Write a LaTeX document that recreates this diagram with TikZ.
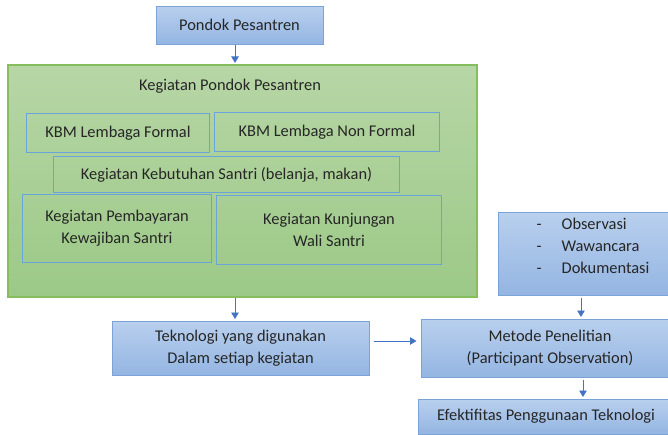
\documentclass[tikz,border=0pt]{standalone}
\usepackage{fontspec}
\setmainfont{Carlito}
\usetikzlibrary{arrows.meta}
\definecolor{bfTop}{HTML}{B9D0EE}
\definecolor{bfBot}{HTML}{94B5E2}
\definecolor{bBorder}{HTML}{7BA3D8}
\definecolor{gTop}{HTML}{B7D6A6}
\definecolor{gBot}{HTML}{9CC987}
\definecolor{gBorder}{HTML}{86BE5E}
\definecolor{inBorder}{HTML}{6AA4DA}
\definecolor{arrC}{HTML}{4472C4}
\begin{document}
\begin{tikzpicture}[x=1pt,y=-1pt,
 every node/.style={font=\fontsize{16.4}{22}\selectfont, text=black!85, inner sep=0pt, align=center},
 bluebox/.style={draw=bBorder, line width=1pt, top color=bfTop, bottom color=bfBot},
 greenbox/.style={draw=gBorder, line width=1.2pt, top color=gTop, bottom color=gBot},
 innerbox/.style={draw=inBorder, line width=1pt},
 arr/.style={draw=arrC, line width=0.8pt, -{Triangle[width=7.5pt,length=6.5pt]}}]
\useasboundingbox (0,0) rectangle (668,434);
\clip (0,0) rectangle (668,434);
\node[bluebox, minimum width=167pt, minimum height=38pt] (pp) at (239.5,25) {Pondok Pesantren};
\node[greenbox, minimum width=469pt, minimum height=232pt] (keg) at (242.5,181) {};
\node (kegt) at (230,86) {Kegiatan Pondok Pesantren};
\node[innerbox, minimum width=183pt, minimum height=39pt] (kbf) at (118,133) {KBM Lembaga Formal};
\node[innerbox, minimum width=225pt, minimum height=39pt] (kbn) at (327,132) {KBM Lembaga Non Formal};
\node[innerbox, minimum width=346pt, minimum height=36pt] (kks) at (226.5,174.5) {Kegiatan Kebutuhan Santri (belanja, makan)};
\node[innerbox, minimum width=189pt, minimum height=68pt] (kpb) at (117,228.5) {Kegiatan Pembayaran\\Kewajiban Santri};
\node[innerbox, minimum width=225pt, minimum height=69pt] (kkw) at (329,230) {Kegiatan Kunjungan\\Wali Santri};
\node[bluebox, minimum width=257pt, minimum height=54pt] (tek) at (240.5,348) {Teknologi yang digunakan\\Dalam setiap kegiatan};
\node[bluebox, minimum width=258pt, minimum height=58pt] (met) at (550,348) {Metode Penelitian\\(Participant Observation)};
\node[bluebox, minimum width=190pt, minimum height=83pt, align=left] (obs) at (593,253.5) {\makebox[25pt][l]{-}Observasi\\\makebox[25pt][l]{-}Wawancara\\\makebox[25pt][l]{-}Dokumentasi\\[-6pt]};
\node[bluebox, minimum width=256pt, minimum height=35pt] (eff) at (546,416.5) {Efektifitas Penggunaan Teknologi};
\draw[arr, shorten >=1.5pt] ([xshift=-4.5pt]pp.south) -- ([xshift=-4.5pt]pp.south |- keg.north);
\draw[arr, shorten >=1.5pt] ([xshift=-5.5pt]tek.north |- keg.south) -- ([xshift=-5.5pt]tek.north);
\draw[arr] ([shift={(4pt,7pt)}]tek.east) -- ([shift={(-4pt,7pt)}]met.west);
\draw[arr, shorten <=2pt, shorten >=1.5pt] ([xshift=-12pt]obs.south) -- ([xshift=-12pt]obs.south |- met.north);
\draw[arr, shorten <=2pt, shorten >=1.5pt] ([xshift=33pt]met.south) -- ([xshift=33pt]met.south |- eff.north);
\end{tikzpicture}
\end{document}
